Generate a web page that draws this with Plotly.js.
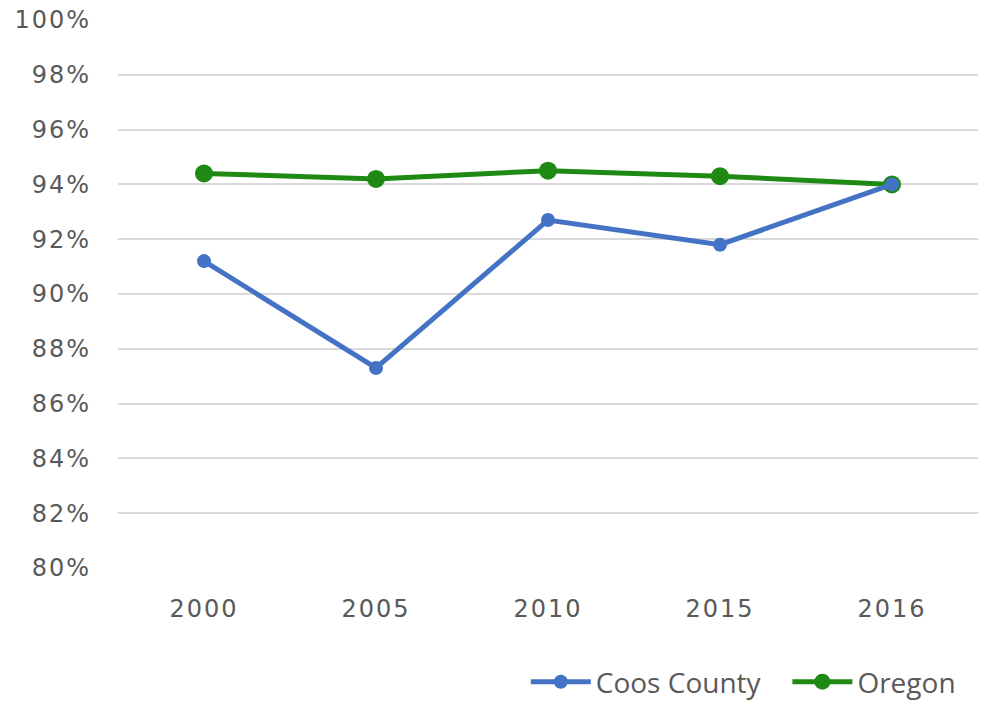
<!DOCTYPE html>
<html>
<head>
<meta charset="utf-8">
<script src="https://cdn.plot.ly/plotly-3.0.1.min.js"></script>
<style>
html,body{margin:0;padding:0;background:#fff;}
#chart{width:984px;height:707px;}
.xtick text, .ytick text {letter-spacing: 2px;}
</style>
</head>
<body>
<div id="chart"></div>
<script>
const years = ['2000', '2005', '2010', '2015', '2016'];
const coosCounty = [0.912, 0.873, 0.927, 0.918, 0.940];
const oregon = [0.944, 0.942, 0.945, 0.943, 0.940];
const yTicks = [0.80, 0.82, 0.84, 0.86, 0.88, 0.90, 0.92, 0.94, 0.96, 0.98, 1.00];
const seriesNames = ['Coos County\u00a0\u00a0\u00a0', 'Oregon'];

const traces = [
  {
    x: years, y: oregon, name: seriesNames[1], type: 'scatter', mode: 'lines+markers',
    line: {color: '#1e8a14', width: 5},
    marker: {color: '#1e8a14', size: 18}
  },
  {
    x: years, y: coosCounty, name: seriesNames[0], type: 'scatter', mode: 'lines+markers',
    line: {color: '#4472c4', width: 5},
    marker: {color: '#4472c4', size: 14}
  }
];

const tickFont = {family: '"DejaVu Sans", sans-serif', size: 24, color: '#595959'};

const layout = {
  width: 984, height: 707,
  margin: {l: 118, r: 6, t: 20, b: 139},
  paper_bgcolor: '#fff', plot_bgcolor: '#fff',
  font: {family: '"DejaVu Sans", sans-serif', color: '#595959', size: 20},
  xaxis: {
    type: 'category', range: [-0.5, 4.5], showgrid: false, zeroline: false, showline: false,
    ticks: '', tickfont: tickFont, ticklabelstandoff: 24, automargin: false
  },
  yaxis: {
    range: [0.80, 1.00], tickvals: yTicks, tickformat: '.0%',
    showgrid: true, gridcolor: '#d9d9d9', gridwidth: 2, zeroline: false,
    showline: false, ticks: '', ticklabelstandoff: 26, automargin: false,
    tickfont: tickFont
  },
  showlegend: true,
  legend: {
    orientation: 'h', xref: 'paper', x: 0.98, xanchor: 'right',
    yref: 'container', y: 0, yanchor: 'bottom',
    traceorder: 'reversed',
    font: {family: '"Open Sans", sans-serif', size: 28, color: '#595959'},
    itemwidth: 60
  }
};

Plotly.newPlot('chart', traces, layout, {displayModeBar: false, staticPlot: true});
</script>
</body>
</html>
